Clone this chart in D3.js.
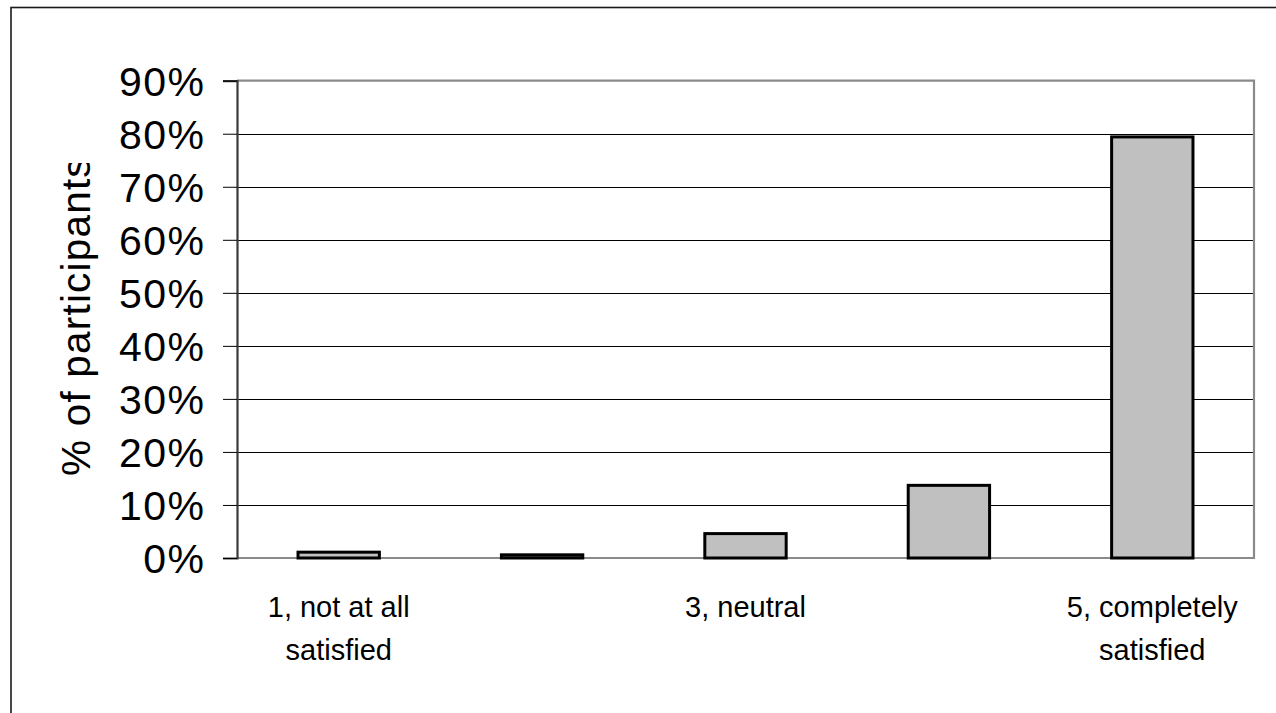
<!DOCTYPE html>
<html>
<head>
<meta charset="utf-8">
<script src="https://cdn.jsdelivr.net/npm/d3@7"></script>
<style>
  html, body { margin: 0; padding: 0; background: #fff; }
  svg { display: block; }
  text { font-family: "Liberation Sans", Arial, sans-serif; fill: #000; }
</style>
</head>
<body>
<svg id="chart" width="1276" height="713"></svg>
<script>
const categories = ["1, not at all|satisfied", "2", "3, neutral", "4", "5, completely|satisfied"];
const categoryLabels = [["1, not at all", "satisfied"], [], ["3, neutral"], [], ["5, completely", "satisfied"]];
const values = [0.011, 0.006, 0.046, 0.137, 0.794];
const yTicks = [0, 0.1, 0.2, 0.3, 0.4, 0.5, 0.6, 0.7, 0.8, 0.9];
const yTitle = "% of participants";

const svg = d3.select("#chart");

// outer frame (extends beyond the visible area on right/bottom)
svg.append("rect")
  .attr("x", 11).attr("y", 7.5)
  .attr("width", 1300).attr("height", 750)
  .attr("fill", "#fff").attr("stroke", "#1a1a1a").attr("stroke-width", 1.6);

const plotLeft = 237, plotRight = 1254, plotTop = 80.7, plotBottom = 558;

const x = d3.scaleBand()
  .domain(categories)
  .range([plotLeft, plotRight])
  .paddingInner(0.6)
  .paddingOuter(0.3);

const y = d3.scaleLinear()
  .domain([0, 0.9])
  .range([plotBottom, plotTop]);

// gridlines
svg.append("g").selectAll("line")
  .data(yTicks.filter(d => d > 0 && d < 0.9))
  .join("line")
  .attr("x1", plotLeft).attr("x2", plotRight)
  .attr("y1", d => Math.round(y(d)) + 0.5).attr("y2", d => Math.round(y(d)) + 0.5)
  .attr("stroke", "#000").attr("stroke-width", 1);

// plot border (top/right/bottom gray)
svg.append("path")
  .attr("d", `M${plotLeft},${plotTop}H${plotRight}V${plotBottom}H${plotLeft}`)
  .attr("fill", "none").attr("stroke", "#8a8a8a").attr("stroke-width", 2.2);

// y axis
const yAxis = d3.axisLeft(y)
  .tickValues(yTicks)
  .tickSize(14)
  .tickPadding(17.5)
  .tickFormat(d3.format(".0%"));

const gy = svg.append("g")
  .attr("transform", `translate(${plotLeft},0)`)
  .call(yAxis);
gy.select(".domain").attr("stroke", "#3a3a3a").attr("stroke-width", 2.2);
gy.selectAll(".tick line").attr("stroke", "#000").attr("stroke-width", 1);
gy.selectAll(".tick text")
  .attr("font-size", 41)
  .attr("letter-spacing", 1.5)
  .attr("font-family", "Liberation Sans, Arial, sans-serif")
  .attr("fill", "#000")
  .attr("dy", "0.35em");

// bars
svg.append("g").selectAll("rect")
  .data(values)
  .join("rect")
  .attr("x", (d, i) => x(categories[i]))
  .attr("width", x.bandwidth())
  .attr("y", d => y(d))
  .attr("height", d => y(0) - y(d))
  .attr("fill", "#c0c0c0")
  .attr("stroke", "#000")
  .attr("stroke-width", 3);

// x labels
const xl = svg.append("g");
categories.forEach((c, i) => {
  const cx = x(c) + x.bandwidth() / 2;
  categoryLabels[i].forEach((line, j) => {
    xl.append("text")
      .attr("x", cx)
      .attr("y", 617 + j * 43)
      .attr("text-anchor", "middle")
      .attr("font-size", 29)
      .text(line);
  });
});

// y title (clipped at top like the original)
svg.append("clipPath").attr("id", "titleClip")
  .append("rect").attr("x", 0).attr("y", 163).attr("width", 200).attr("height", 400);
svg.append("g").attr("clip-path", "url(#titleClip)")
  .append("text")
  .attr("transform", "translate(90,476) rotate(-90)")
  .attr("text-anchor", "start")
  .attr("font-size", 40.5)
  .attr("letter-spacing", 1.2)
  .text(yTitle);
</script>
</body>
</html>
